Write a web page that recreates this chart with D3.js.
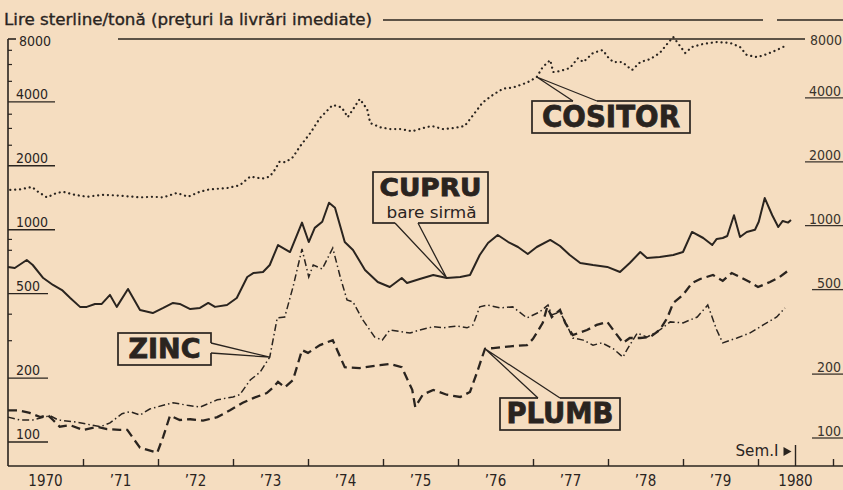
<!DOCTYPE html>
<html><head><meta charset="utf-8">
<script src="https://cdn.jsdelivr.net/npm/d3@7"></script>
<style>
body{margin:0;background:#f5ddc0;}
svg{display:block;}
</style>
</head><body>
<svg id="chart" width="843" height="490"></svg>
<script>
// ---------- DATA (year, £/tonne) ----------
const cositor = [[1970.03,1540],[1970.16,1550],[1970.32,1590],[1970.40,1510],[1970.52,1420],[1970.63,1480],[1970.73,1510],[1970.89,1460],[1971.05,1430],[1971.27,1460],[1971.45,1450],[1971.67,1430],[1971.76,1420],[1971.93,1430],[1972.07,1420],[1972.25,1490],[1972.40,1430],[1972.56,1510],[1972.69,1550],[1972.92,1570],[1973.09,1620],[1973.23,1780],[1973.39,1740],[1973.49,1780],[1973.56,1920],[1973.62,2090],[1973.70,2080],[1973.80,2200],[1973.89,2460],[1974.03,2850],[1974.16,3360],[1974.33,3870],[1974.45,3770],[1974.53,3390],[1974.60,3690],[1974.69,4130],[1974.79,3690],[1974.83,3180],[1974.96,3040],[1975.09,2980],[1975.23,2980],[1975.39,2910],[1975.53,3010],[1975.65,3080],[1975.80,2980],[1975.93,3010],[1976.09,3080],[1976.20,3460],[1976.33,3980],[1976.47,4330],[1976.60,4620],[1976.73,4670],[1976.92,4930],[1977.05,5240],[1977.13,5840],[1977.23,6300],[1977.27,5530],[1977.36,5590],[1977.49,5770],[1977.60,6430],[1977.67,6160],[1977.80,6800],[1977.93,7020],[1978.00,6500],[1978.07,6160],[1978.19,6160],[1978.32,5650],[1978.43,6160],[1978.56,6360],[1978.69,6800],[1978.80,7580],[1978.87,8090],[1978.93,7580],[1979.03,6800],[1979.12,7260],[1979.27,7500],[1979.45,7660],[1979.63,7580],[1979.76,7260],[1979.85,6650],[1979.99,6500],[1980.12,6720],[1980.25,7020],[1980.39,7420]];

const cupru = [[1970.00,668],[1970.09,660],[1970.25,720],[1970.33,682],[1970.47,592],[1970.60,549],[1970.72,520],[1970.83,477],[1970.96,433],[1971.05,433],[1971.16,447],[1971.25,447],[1971.36,493],[1971.45,433],[1971.60,526],[1971.76,419],[1971.93,405],[1972.07,428],[1972.20,452],[1972.29,447],[1972.43,423],[1972.56,428],[1972.67,452],[1972.76,433],[1972.92,442],[1973.05,477],[1973.19,599],[1973.27,625],[1973.40,632],[1973.49,682],[1973.60,847],[1973.76,785],[1973.92,1080],[1974.01,875],[1974.09,1020],[1974.19,1090],[1974.28,1340],[1974.36,1270],[1974.49,875],[1974.60,803],[1974.76,646],[1974.93,567],[1975.09,537],[1975.25,592],[1975.32,561],[1975.49,586],[1975.67,612],[1975.85,592],[1976.03,599],[1976.16,612],[1976.29,760],[1976.40,866],[1976.53,944],[1976.67,875],[1976.80,829],[1976.93,768],[1977.05,829],[1977.23,895],[1977.36,838],[1977.49,760],[1977.63,697],[1977.80,682],[1977.99,668],[1978.16,632],[1978.29,697],[1978.43,785],[1978.52,736],[1978.69,744],[1978.87,760],[1979.00,785],[1979.12,976],[1979.27,914],[1979.39,847],[1979.45,905],[1979.53,914],[1979.59,934],[1979.68,1170],[1979.76,924],[1979.85,976],[1979.96,1000],[1980.01,1090],[1980.09,1410],[1980.19,1170],[1980.27,1030],[1980.33,1100],[1980.40,1080],[1980.44,1110]];

const zinc = [[1970.00,131],[1970.16,127],[1970.33,127],[1970.56,133],[1970.67,127],[1970.92,124],[1971.23,118],[1971.36,123],[1971.52,136],[1971.63,139],[1971.76,134],[1971.89,143],[1972.07,149],[1972.20,153],[1972.39,149],[1972.56,146],[1972.79,158],[1973.00,163],[1973.09,167],[1973.23,196],[1973.36,213],[1973.49,251],[1973.59,384],[1973.69,388],[1973.80,537],[1973.92,811],[1974.01,599],[1974.07,682],[1974.19,653],[1974.33,820],[1974.43,599],[1974.52,467],[1974.60,457],[1974.73,376],[1974.89,312],[1974.99,302],[1975.09,337],[1975.36,326],[1975.49,337],[1975.67,349],[1975.80,345],[1975.99,352],[1976.12,345],[1976.20,356],[1976.29,433],[1976.39,442],[1976.56,428],[1976.73,433],[1976.92,384],[1977.09,410],[1977.20,442],[1977.25,397],[1977.36,410],[1977.45,356],[1977.53,309],[1977.67,302],[1977.80,286],[1977.92,293],[1978.07,275],[1978.20,251],[1978.25,271],[1978.39,326],[1978.52,312],[1978.69,337],[1978.83,368],[1979.00,364],[1979.19,388],[1979.33,442],[1979.45,337],[1979.53,293],[1979.72,309],[1979.89,326],[1980.07,356],[1980.25,388],[1980.36,428]];

const plumb = [[1970.00,141],[1970.13,141],[1970.29,137],[1970.43,131],[1970.53,134],[1970.60,127],[1970.69,118],[1970.83,120],[1971.00,114],[1971.19,118],[1971.32,115],[1971.49,114],[1971.59,114],[1971.76,94],[1971.85,92],[1971.99,89],[1972.07,106],[1972.16,133],[1972.29,127],[1972.43,128],[1972.60,126],[1972.79,131],[1972.96,141],[1973.13,153],[1973.27,161],[1973.45,170],[1973.53,180],[1973.60,192],[1973.69,181],[1973.80,196],[1973.92,271],[1974.00,263],[1974.16,286],[1974.33,302],[1974.49,225],[1974.69,223],[1974.96,230],[1975.09,233],[1975.25,225],[1975.39,176],[1975.43,146],[1975.53,167],[1975.67,176],[1975.85,167],[1976.03,163],[1976.16,172],[1976.25,211],[1976.36,275],[1976.47,277],[1976.59,280],[1976.73,283],[1976.92,286],[1977.00,306],[1977.13,364],[1977.19,433],[1977.25,388],[1977.36,419],[1977.43,364],[1977.53,319],[1977.72,337],[1977.85,356],[1977.99,368],[1978.09,330],[1978.20,293],[1978.29,309],[1978.43,309],[1978.56,312],[1978.69,337],[1978.79,384],[1978.87,452],[1979.00,493],[1979.12,561],[1979.23,586],[1979.40,612],[1979.53,574],[1979.65,625],[1979.76,599],[1979.89,567],[1980.00,537],[1980.16,567],[1980.29,599],[1980.43,653]];

const yTickValues = [100, 200, 500, 1000, 2000, 4000, 8000];
const yMinorTicks = [7000, 6000, 5000, 3500, 3000, 2500, 900, 800, 400, 300];
const yearBoundaries = [1971,1972,1973,1974,1975,1976,1977,1978,1979,1980,1981];
const yearLabelYears = [1970,1971,1972,1973,1974,1975,1976,1977,1978,1979,1980];
const yearLabels = ["1970","\u201971","\u201972","\u201973","\u201974","\u201975","\u201976","\u201977","\u201978","\u201979","1980"];
const titleText = "Lire sterline/tonă (preţuri la livrări imediate)";
const semLabel = "Sem.I";
const semEnd = 1980.5;

// ---------- SETUP ----------
const ink = "#2a241f";
const bg = "#f5ddc0";
const font = "'DejaVu Sans Condensed','DejaVu Sans',sans-serif";
const svg = d3.select("#chart");
svg.append("rect").attr("width",843).attr("height",490).attr("fill",bg);

const x = d3.scaleLinear().domain([1970, 1981]).range([8, 833]);
const y = d3.scaleLog().domain([100, 8000]).range([442, 38]);
const axisY = 466;

// title + top rule
svg.append("text").attr("x",4).attr("y",25).attr("font-family",font).attr("font-size",15)
  .attr("fill",ink).attr("stroke",ink).attr("stroke-width",0.3)
  .attr("textLength",368).attr("lengthAdjust","spacingAndGlyphs").text(titleText);
svg.append("line").attr("x1",383).attr("x2",763).attr("y1",20).attr("y2",20).attr("stroke",ink).attr("stroke-width",1.3);
svg.append("line").attr("x1",777).attr("x2",843).attr("y1",20).attr("y2",20).attr("stroke",ink).attr("stroke-width",1.3);

// 8000 rule
svg.append("line").attr("x1",118).attr("x2",805).attr("y1",y(8000)+1).attr("y2",y(8000)+1)
  .attr("stroke",ink).attr("stroke-width",1.3);

// left axis
svg.append("line").attr("x1",8).attr("x2",8).attr("y1",y(8000)+1).attr("y2",axisY).attr("stroke",ink).attr("stroke-width",1.6);
svg.append("line").attr("x1",8).attr("x2",16).attr("y1",y(8000)+1).attr("y2",y(8000)+1).attr("stroke",ink).attr("stroke-width",1.6);
svg.selectAll(".minor").data(yMinorTicks).join("line")
  .attr("x1",8).attr("x2",12).attr("y1",d=>y(d)).attr("y2",d=>y(d)).attr("stroke",ink).attr("stroke-width",1.2);

const leftG = svg.append("g");
yTickValues.forEach(v=>{
  if (v === 8000) {
    leftG.append("text").attr("x",19).attr("y",y(v)+8).attr("font-family",font).attr("font-size",14).attr("fill",ink).text(v);
  } else {
    leftG.append("text").attr("x",16).attr("y",y(v)-3).attr("font-family",font).attr("font-size",14).attr("fill",ink).text(v);
    leftG.append("line").attr("x1",8).attr("x2",v>=1000?55:48).attr("y1",y(v)).attr("y2",y(v)).attr("stroke",ink).attr("stroke-width",1.4);
  }
});
const rightG = svg.append("g");
yTickValues.forEach(v=>{
  if (v === 8000) {
    rightG.append("text").attr("x",842).attr("y",y(v)+7).attr("text-anchor","end").attr("font-family",font).attr("font-size",14).attr("fill","#3a332c").text(v);
  } else {
    rightG.append("text").attr("x",841).attr("y",y(v)-6).attr("text-anchor","end").attr("font-family",font).attr("font-size",14).attr("fill","#3a332c").text(v);
    rightG.append("line").attr("x1",v>=1000?805:812).attr("x2",843).attr("y1",y(v)-4).attr("y2",y(v)-4).attr("stroke","#3a332c").attr("stroke-width",1.3);
  }
});

// bottom axis
svg.append("line").attr("x1",8).attr("x2",843).attr("y1",axisY).attr("y2",axisY).attr("stroke",ink).attr("stroke-width",1.6);
const xAxis = d3.axisBottom(x).tickValues(yearBoundaries).tickSize(-7).tickFormat("");
const gx = svg.append("g").attr("transform",`translate(0,${axisY})`).call(xAxis);
gx.select(".domain").remove();
gx.selectAll(".tick line").attr("stroke",ink).attr("stroke-width",1.4);
svg.selectAll(".ylab").data(yearLabelYears).join("text")
  .attr("x",d=>x(d+0.5)).attr("y",486).attr("text-anchor","middle")
  .attr("font-family",font).attr("font-size",15).attr("fill",ink)
  .text((d,i)=>yearLabels[i]);

// Sem I marker
const sx = x(semEnd);
svg.append("text").attr("x",sx-60).attr("y",456).attr("font-family",font).attr("font-size",15)
  .attr("fill",ink).attr("textLength",43).attr("lengthAdjust","spacingAndGlyphs").text(semLabel);
svg.append("path").attr("d",`M${sx-12},${447}L${sx-4},${451.5}L${sx-12},${456}Z`).attr("fill",ink);
svg.append("line").attr("x1",sx).attr("x2",sx).attr("y1",445).attr("y2",axisY).attr("stroke",ink).attr("stroke-width",1.4);

// ---------- SERIES ----------
const line = d3.line().x(d=>x(d[0])).y(d=>y(d[1]));
svg.append("path").datum(cositor).attr("d",line).attr("fill","none").attr("stroke",ink)
  .attr("stroke-width",2.2).attr("stroke-linecap","round").attr("stroke-dasharray","0.1 4.8");
svg.append("path").datum(cupru).attr("d",line).attr("fill","none").attr("stroke",ink)
  .attr("stroke-width",2).attr("stroke-linejoin","round");
svg.append("path").datum(zinc).attr("d",line).attr("fill","none").attr("stroke",ink)
  .attr("stroke-width",1.5).attr("stroke-dasharray","7 3 1.5 3");
svg.append("path").datum(plumb).attr("d",line).attr("fill","none").attr("stroke",ink)
  .attr("stroke-width",2.3).attr("stroke-dasharray","9 5");

// ---------- LABEL BOXES ----------
function pt(series, t){ const d = series.find(p=>p[0]===t); return [x(d[0]), y(d[1])]; }
const boxes = [
  {text:"COSITOR", bx:532, by:101, bw:158, bh:32, fs:30, tl:138, ty:127, base:[[573,101],[597,101]], apex:pt(cositor,1977.05)},
  {text:"CUPRU", bx:373, by:172, bw:115, bh:51, fs:24, tl:102, ty:196, base:[[395,223],[418,223]], apex:pt(cupru,1975.85), sub:"bare sirmă"},
  {text:"ZINC", bx:118, by:333, bw:93, bh:32, fs:27, tl:72, ty:358, base:[[211,343],[211,353]], apex:pt(zinc,1973.49)},
  {text:"PLUMB", bx:500, by:398, bw:120, bh:32, fs:29, tl:107, ty:423, base:[[538,398],[560,398]], apex:pt(plumb,1976.36)}
];
boxes.forEach(b=>{
  const g = svg.append("g");
  g.append("rect").attr("x",b.bx).attr("y",b.by).attr("width",b.bw).attr("height",b.bh)
    .attr("fill",bg).attr("stroke",ink).attr("stroke-width",1.7);
  g.append("path").attr("d",`M${b.base[0][0]},${b.base[0][1]}L${b.apex[0]},${b.apex[1]}L${b.base[1][0]},${b.base[1][1]}Z`)
    .attr("fill",bg).attr("stroke","none");
  g.append("line").attr("x1",b.base[0][0]).attr("y1",b.base[0][1]).attr("x2",b.base[1][0]).attr("y2",b.base[1][1])
    .attr("stroke",bg).attr("stroke-width",2.5);
  g.append("path").attr("d",`M${b.base[0][0]},${b.base[0][1]}L${b.apex[0]},${b.apex[1]}L${b.base[1][0]},${b.base[1][1]}`)
    .attr("fill","none").attr("stroke",ink).attr("stroke-width",1.3);
  g.append("text").attr("x",b.bx+b.bw/2).attr("y",b.ty).attr("text-anchor","middle")
    .attr("font-family","'DejaVu Sans',sans-serif").attr("font-weight","bold").attr("font-size",b.fs)
    .attr("fill",ink).attr("stroke",ink).attr("stroke-width",0.8)
    .attr("textLength",b.tl).attr("lengthAdjust","spacingAndGlyphs").text(b.text);
  if (b.sub) {
    g.append("text").attr("x",b.bx+b.bw/2+1).attr("y",218).attr("text-anchor","middle")
      .attr("font-family",font).attr("font-size",16).attr("fill",ink)
      .attr("textLength",90).attr("lengthAdjust","spacingAndGlyphs").text(b.sub);
  }
});
</script>
</body></html>
